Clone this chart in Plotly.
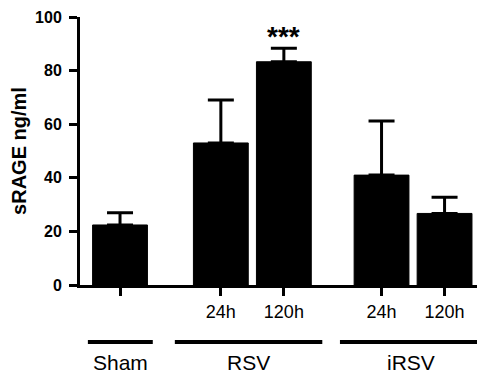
import plotly.graph_objects as go

# Data
categories = ["Sham", "RSV 24h", "RSV 120h", "iRSV 24h", "iRSV 120h"]
tick_labels = ["", "24h", "120h", "24h", "120h"]
x_pos = [0, 1.6, 2.6, 4.15, 5.15]
means = [22.4, 53.0, 83.3, 41.0, 26.7]
sem_up = [4.6, 16.0, 5.0, 20.2, 6.0]
groups = ["Sham", "RSV", "iRSV"]
group_spans = [(-0.51, 0.52), (0.87, 3.21), (3.49, 5.9)]
y_ticks = [0, 20, 40, 60, 80, 100]

FONT = "Liberation Sans, Arial, sans-serif"

fig = go.Figure()
fig.add_trace(go.Bar(
    x=x_pos, y=means, width=0.87,
    marker=dict(color="black", line=dict(color="black", width=1)),
    error_y=dict(type="data", symmetric=False, array=sem_up,
                 arrayminus=[0] * len(sem_up),
                 color="black", thickness=3, width=13),
    hoverinfo="skip",
))

# significance marker
fig.add_annotation(x=x_pos[2], y=means[2] + sem_up[2], yanchor="bottom",
                   text="<b>***</b>", showarrow=False, yshift=-6,
                   font=dict(family=FONT, size=28, color="black"))

# group lines and labels
for name, (a, b) in zip(groups, group_spans):
    fig.add_shape(type="line", xref="x", yref="paper", x0=a, x1=b,
                  y0=-0.213, y1=-0.213,
                  line=dict(color="black", width=4))
    fig.add_annotation(x=(a + min(b, 5.76)) / 2, y=-0.291, xref="x", yref="paper",
                       text=name, showarrow=False, yanchor="middle",
                       font=dict(family=FONT, size=21, color="black"))

fig.update_layout(
    width=477, height=369,
    margin=dict(l=72, r=2, t=9, b=92),
    paper_bgcolor="white", plot_bgcolor="white",
    showlegend=False,
    font=dict(family=FONT, color="black"),
)
fig.update_xaxes(
    range=[-0.635, 5.76], tickmode="array", tickvals=x_pos, ticktext=tick_labels,
    showline=True, linecolor="black", linewidth=3,
    ticks="outside", ticklen=8, tickwidth=2.5, tickcolor="black",
    showgrid=False, zeroline=False, automargin=False,
    tickfont=dict(family=FONT, size=18, color="black"),
)
fig.update_yaxes(
    range=[0, 100], tickmode="array", tickvals=y_ticks,
    ticktext=[f"<b>{v}</b>" for v in y_ticks],
    showline=True, linecolor="black", linewidth=3,
    ticks="outside", ticklen=8, tickwidth=2.5, tickcolor="black",
    showgrid=False, zeroline=False, automargin=False,
    tickfont=dict(family=FONT, size=16, color="black"),
    ticklabelstandoff=4,
    title=dict(text="<b>sRAGE ng/ml</b>", standoff=6,
               font=dict(family=FONT, size=20, color="black")),
)

fig.write_html("out.html")
